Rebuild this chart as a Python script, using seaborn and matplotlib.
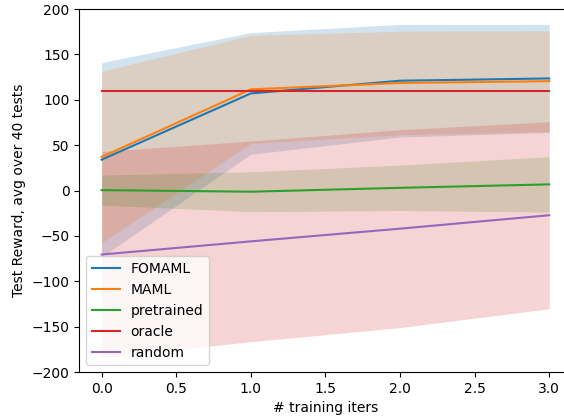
import matplotlib
matplotlib.use("Agg")
import matplotlib.pyplot as plt
import seaborn as sns
import pandas as pd
import numpy as np

iters = [0, 1, 2, 3]
names = ["FOMAML", "MAML", "pretrained", "oracle", "random"]

fomaml_mean = [34, 107, 121, 123.5]
fomaml_std = [107, 67, 62, 59.5]
maml_mean = [37, 111.5, 118.5, 120.5]
maml_std = [94.5, 59.5, 57, 55.5]
pretrained_mean = [0.5, -1.3, 3, 6.8]
pretrained_std = [16.5, 22, 25, 30.5]
oracle_mean = [110, 110, 110, 110]
random_mean = [-70.5, -56, -42, -27.2]
random_std = [113.5, 110.5, 109, 103]

means = [fomaml_mean, maml_mean, pretrained_mean, oracle_mean, random_mean]
line_colors = ["#1f77b4", "#ff7f0e", "#2ca02c", "#d62728", "#9467bd"]

# bands (fill colour cycle advanced independently: oracle has no band)
bands = [(fomaml_mean, fomaml_std, "#1f77b4"),
         (maml_mean, maml_std, "#ff7f0e"),
         (pretrained_mean, pretrained_std, "#2ca02c"),
         (random_mean, random_std, "#d62728")]

rows = []
for n, m in zip(names, means):
    for x, v in zip(iters, m):
        rows.append({"iter": x, "reward": v, "method": n})
df = pd.DataFrame(rows)

fig = plt.figure(figsize=(5.64, 4.19), dpi=100)
ax = fig.add_axes([0.1405, 0.112, 0.873, 0.8665])

for m, s, c in bands:
    m = np.array(m, dtype=float)
    s = np.array(s, dtype=float)
    ax.fill_between(iters, m - s, m + s, color=c, alpha=0.2, linewidth=0)

sns.lineplot(data=df, x="iter", y="reward", hue="method", hue_order=names,
             palette=line_colors, ax=ax, linewidth=1.5, errorbar=None)

ax.set_ylim(-200, 200)
ax.set_xlim(-0.15, 3.15)
ax.set_xticks([0, 0.5, 1.0, 1.5, 2.0, 2.5, 3.0])
ax.spines["right"].set_visible(False)
ax.set_xlabel("# training iters")
ax.set_ylabel("Test Reward, avg over 40 tests")
ax.legend(loc="lower left", title=None)

fig.savefig("out.png", dpi=100)
